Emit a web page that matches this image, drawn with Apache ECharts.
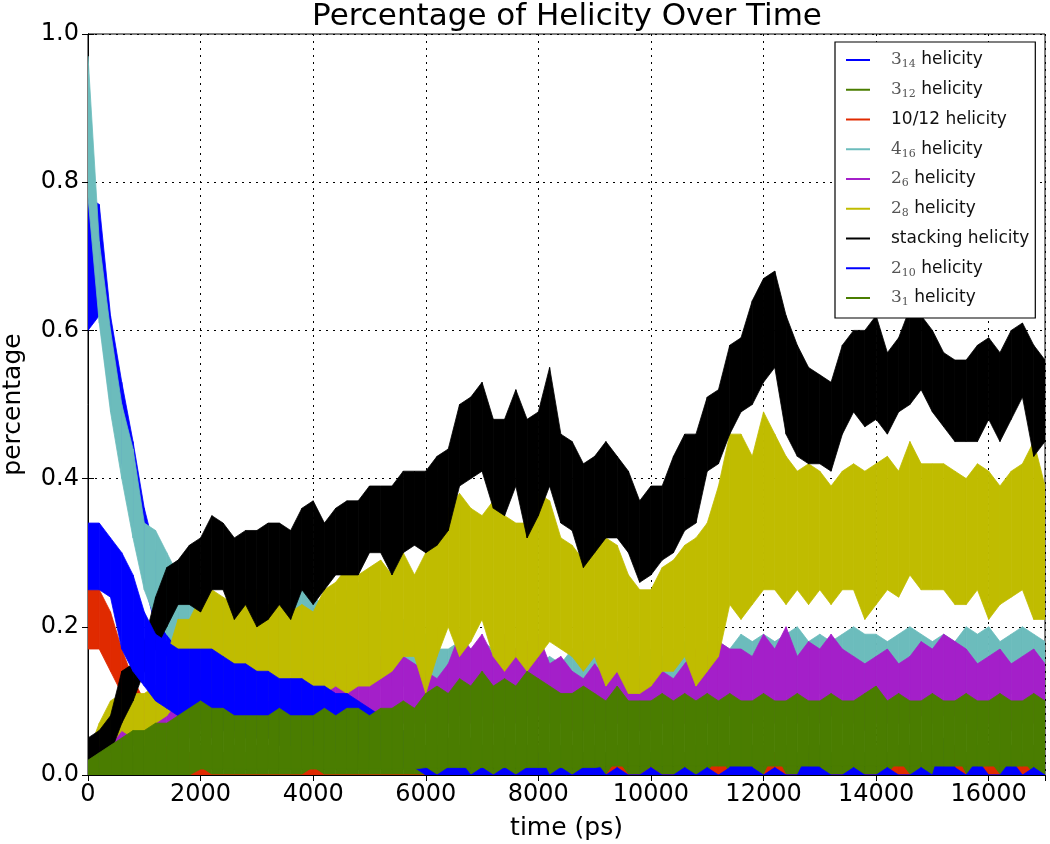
<!DOCTYPE html>
<html><head><meta charset="utf-8">
<script src="https://cdn.jsdelivr.net/npm/echarts@6/dist/echarts.min.js"></script>
<style>html,body{margin:0;padding:0;background:#fff}#c{width:1050px;height:844px}</style>
</head><body><div id="c"></div>
<script>
// time grid (ps)
const times = [0,200,400,600,800,1000,1200,1400,1600,1800,2000,2200,2400,2600,2800,3000,3200,3400,3600,3800,4000,4200,4400,4600,4800,5000,5200,5400,5600,5800,6000,6200,6400,6600,6800,7000,7200,7400,7600,7800,8000,8200,8400,8600,8800,9000,9200,9400,9600,9800,10000,10200,10400,10600,10800,11000,11200,11400,11600,11800,12000,12200,12400,12600,12800,13000,13200,13400,13600,13800,14000,14200,14400,14600,14800,15000,15200,15400,15600,15800,16000,16200,16400,16600,16800,17000];

// each series: lower and upper envelope of the noisy trace
const h314Lo = [0.60,0.62,0.50,0.42,0.34,0.26,0.20,0.16,0.13,0.11,0.09,0.08,0.07,0.06,0.06,0.05,0.05,0.04,0.04,0.03,0.03,0.03,0.02,0.02,0.02,0.02,0.01,0.01,0.01,0.01,0.01,0,0,0,0,0,0,0,0,0,0,0,0,0,0,0,0,0,0,0,0,0,0,0,0,0,0,0,0,0,0,0,0,0,0,0,0,0,0,0,0,0,0,0,0,0,0,0,0,0,0,0,0,0,0,0];
const h314Hi = [0.78,0.77,0.62,0.53,0.45,0.36,0.30,0.26,0.22,0.19,0.17,0.15,0.14,0.13,0.12,0.11,0.10,0.09,0.08,0.08,0.07,0.07,0.06,0.06,0.05,0.05,0.04,0.04,0.04,0.03,0.03,0.02,0.03,0.02,0.02,0.03,0.02,0.02,0.03,0.02,0.03,0.02,0.02,0.02,0.03,0.02,0.02,0.03,0.02,0.02,0.02,0.03,0.02,0.02,0.03,0.02,0.03,0.02,0.02,0.03,0.02,0.02,0.03,0.02,0.03,0.02,0.02,0.02,0.03,0.02,0.02,0.03,0.02,0.02,0.02,0.03,0.02,0.02,0.03,0.02,0.02,0.02,0.03,0.02,0.02,0.02];

const h312Lo = [0,0,0,0,0,0,0,0,0,0,0,0,0,0,0,0,0,0,0,0,0,0,0,0,0,0,0,0,0,0,0,0,0,0,0,0,0,0,0,0,0,0,0,0,0,0,0,0,0,0,0,0,0,0,0,0,0,0,0,0,0,0,0,0,0,0,0,0,0,0,0,0,0,0,0,0,0,0,0,0,0,0,0,0,0,0];
const h312Hi = [0.01,0.02,0.02,0.03,0.03,0.04,0.03,0.04,0.04,0.03,0.04,0.04,0.03,0.04,0.03,0.04,0.04,0.03,0.04,0.03,0.04,0.03,0.04,0.04,0.03,0.04,0.03,0.04,0.04,0.03,0.04,0.04,0.05,0.04,0.05,0.04,0.04,0.05,0.04,0.04,0.04,0.03,0.04,0.04,0.03,0.04,0.03,0.04,0.03,0.04,0.03,0.04,0.04,0.03,0.04,0.04,0.03,0.04,0.03,0.04,0.04,0.03,0.04,0.03,0.04,0.04,0.03,0.04,0.04,0.03,0.04,0.03,0.04,0.04,0.03,0.04,0.03,0.04,0.03,0.04,0.04,0.03,0.04,0.03,0.04,0.03];

const h1012Lo = [0.17,0.17,0.14,0.11,0.08,0.05,0.03,0.02,0.01,0,0,0,0,0,0,0,0,0,0,0,0,0,0,0,0,0,0,0,0,0,0,0,0,0,0,0,0,0,0,0,0,0,0,0,0,0,0,0,0,0,0,0,0,0,0,0,0,0,0,0,0,0,0,0,0,0,0,0,0,0,0,0,0,0,0,0,0,0,0,0,0,0,0,0,0,0];
const h1012Hi = [0.25,0.25,0.22,0.17,0.13,0.10,0.08,0.06,0.05,0.03,0.01,0,0,0,0,0,0,0,0,0,0.01,0,0,0,0,0,0,0,0,0,0,0,0,0,0,0,0,0,0,0,0,0,0,0,0,0,0,0.02,0,0,0.01,0,0,0,0,0,0.03,0,0.02,0,0,0.03,0,0,0.02,0,0,0,0,0,0,0,0.02,0,0,0,0,0.03,0,0,0.02,0,0,0.02,0,0];

const h416Lo = [0.78,0.61,0.49,0.40,0.32,0.25,0.21,0.19,0.17,0.16,0.15,0.14,0.14,0.13,0.14,0.13,0.13,0.13,0.14,0.14,0.13,0.13,0.13,0.14,0.14,0.13,0.12,0.12,0.12,0.11,0.11,0.10,0.10,0.10,0.10,0.10,0.10,0.09,0.09,0.09,0.09,0.09,0.09,0.09,0.10,0.10,0.10,0.10,0.10,0.10,0.10,0.10,0.10,0.10,0.10,0.10,0.10,0.10,0.11,0.11,0.11,0.11,0.11,0.11,0.11,0.11,0.11,0.11,0.11,0.11,0.11,0.11,0.11,0.11,0.11,0.11,0.11,0.11,0.11,0.11,0.11,0.11,0.11,0.11,0.11,0.11];
const h416Hi = [0.97,0.72,0.60,0.50,0.44,0.34,0.33,0.30,0.27,0.25,0.24,0.24,0.23,0.22,0.23,0.22,0.22,0.22,0.25,0.26,0.24,0.23,0.23,0.25,0.26,0.24,0.22,0.22,0.21,0.20,0.19,0.17,0.17,0.18,0.17,0.18,0.17,0.16,0.16,0.15,0.15,0.16,0.15,0.17,0.18,0.18,0.17,0.18,0.17,0.16,0.17,0.16,0.17,0.18,0.17,0.18,0.18,0.17,0.19,0.18,0.19,0.18,0.19,0.20,0.18,0.19,0.18,0.19,0.20,0.19,0.19,0.18,0.19,0.20,0.19,0.18,0.19,0.18,0.20,0.19,0.20,0.18,0.19,0.20,0.19,0.18];

const h26Lo = [0.00,0.01,0.02,0.03,0.04,0.04,0.05,0.04,0.05,0.05,0.06,0.05,0.06,0.05,0.06,0.05,0.06,0.05,0.06,0.06,0.06,0.06,0.07,0.06,0.07,0.06,0.07,0.06,0.07,0.07,0.07,0.06,0.07,0.08,0.07,0.08,0.07,0.08,0.07,0.08,0.08,0.07,0.07,0.06,0.06,0.07,0.06,0.07,0.06,0.06,0.06,0.07,0.06,0.07,0.07,0.07,0.08,0.08,0.07,0.07,0.08,0.07,0.08,0.07,0.08,0.07,0.08,0.07,0.07,0.06,0.07,0.07,0.07,0.07,0.08,0.07,0.08,0.08,0.07,0.06,0.07,0.07,0.06,0.07,0.07,0.06];
const h26Hi = [0.02,0.04,0.06,0.09,0.10,0.10,0.11,0.11,0.12,0.12,0.12,0.12,0.13,0.12,0.13,0.12,0.13,0.12,0.13,0.13,0.14,0.13,0.14,0.15,0.14,0.15,0.16,0.14,0.16,0.15,0.14,0.13,0.15,0.19,0.17,0.19,0.16,0.19,0.17,0.18,0.19,0.15,0.16,0.14,0.13,0.15,0.13,0.14,0.12,0.13,0.13,0.14,0.13,0.15,0.17,0.16,0.18,0.17,0.17,0.16,0.19,0.17,0.20,0.16,0.18,0.17,0.19,0.17,0.16,0.15,0.16,0.17,0.15,0.16,0.18,0.17,0.19,0.18,0.17,0.15,0.16,0.17,0.15,0.16,0.17,0.15];

const h28Lo = [0.01,0.04,0.04,0.06,0.05,0.04,0.07,0.08,0.10,0.10,0.13,0.11,0.11,0.10,0.11,0.10,0.10,0.10,0.11,0.10,0.10,0.11,0.12,0.11,0.12,0.12,0.13,0.14,0.16,0.16,0.11,0.16,0.20,0.16,0.18,0.21,0.16,0.14,0.16,0.14,0.16,0.18,0.17,0.16,0.14,0.16,0.12,0.14,0.11,0.11,0.12,0.14,0.14,0.16,0.12,0.14,0.16,0.23,0.21,0.23,0.25,0.25,0.23,0.25,0.23,0.25,0.23,0.25,0.25,0.21,0.23,0.25,0.24,0.27,0.25,0.25,0.25,0.23,0.23,0.25,0.21,0.23,0.24,0.25,0.21,0.21];
const h28Hi = [0.03,0.07,0.10,0.11,0.11,0.11,0.12,0.16,0.21,0.21,0.24,0.25,0.24,0.23,0.25,0.25,0.23,0.23,0.22,0.23,0.22,0.25,0.26,0.28,0.27,0.28,0.29,0.27,0.30,0.27,0.30,0.32,0.36,0.38,0.36,0.35,0.37,0.35,0.34,0.34,0.38,0.37,0.32,0.31,0.29,0.32,0.32,0.31,0.27,0.25,0.25,0.28,0.29,0.31,0.32,0.34,0.39,0.46,0.46,0.43,0.49,0.46,0.43,0.41,0.42,0.41,0.39,0.41,0.42,0.41,0.42,0.43,0.41,0.45,0.42,0.42,0.42,0.41,0.40,0.42,0.41,0.39,0.41,0.42,0.45,0.39];

const stackLo = [0.02,0.03,0.03,0.07,0.10,0.14,0.17,0.20,0.23,0.23,0.22,0.25,0.25,0.21,0.23,0.20,0.21,0.23,0.21,0.25,0.23,0.25,0.27,0.27,0.27,0.30,0.30,0.27,0.30,0.31,0.30,0.31,0.33,0.39,0.40,0.41,0.36,0.35,0.39,0.32,0.35,0.39,0.34,0.33,0.28,0.30,0.32,0.32,0.30,0.26,0.27,0.29,0.30,0.33,0.34,0.41,0.42,0.46,0.49,0.50,0.53,0.55,0.46,0.43,0.42,0.42,0.41,0.46,0.49,0.47,0.48,0.46,0.49,0.50,0.52,0.49,0.47,0.45,0.45,0.45,0.48,0.45,0.48,0.51,0.43,0.45];
const stackHi = [0.05,0.06,0.08,0.14,0.15,0.18,0.24,0.28,0.29,0.31,0.32,0.35,0.34,0.32,0.33,0.33,0.34,0.34,0.33,0.36,0.37,0.34,0.36,0.37,0.37,0.39,0.39,0.39,0.41,0.41,0.41,0.43,0.44,0.50,0.51,0.53,0.48,0.48,0.52,0.48,0.49,0.55,0.46,0.45,0.42,0.43,0.45,0.43,0.41,0.37,0.39,0.39,0.43,0.46,0.46,0.51,0.52,0.58,0.59,0.64,0.67,0.68,0.62,0.58,0.55,0.54,0.53,0.58,0.60,0.60,0.62,0.57,0.59,0.63,0.62,0.60,0.57,0.56,0.56,0.58,0.59,0.57,0.60,0.61,0.58,0.56];

const h210Lo = [0.25,0.25,0.24,0.17,0.14,0.12,0.10,0.09,0.08,0.08,0.07,0.07,0.06,0.06,0.05,0.05,0.05,0.05,0.04,0.04,0.04,0.04,0.03,0.03,0.03,0.02,0.02,0.01,0.01,0.01,0,0,0,0,0,0,0,0,0,0,0,0,0,0,0,0,0,0,0,0,0,0,0,0,0,0,0,0,0,0,0,0,0,0,0,0,0,0,0,0,0,0,0,0,0,0,0,0,0,0,0,0,0,0,0,0];
const h210Hi = [0.34,0.34,0.32,0.30,0.27,0.22,0.19,0.18,0.17,0.17,0.17,0.17,0.16,0.15,0.15,0.14,0.14,0.13,0.13,0.13,0.12,0.12,0.11,0.11,0.10,0.09,0.08,0.07,0.06,0.05,0.01,0,0.01,0.02,0,0.01,0,0.01,0,0.01,0.03,0,0.01,0,0.01,0.02,0,0.01,0,0,0.01,0,0,0.01,0,0.01,0,0.01,0.05,0.01,0,0.01,0,0,0.03,0.01,0,0,0.01,0,0,0.01,0,0,0.01,0,0.05,0.01,0,0.02,0,0,0.02,0,0.01,0];

const h31Lo = [0,0,0,0,0,0,0,0,0,0,0.008,0.008,0.008,0.008,0.008,0.008,0.008,0.008,0.008,0.008,0.008,0.008,0.008,0.008,0.008,0.008,0.008,0.008,0.008,0.008,0.01,0.01,0.01,0.01,0.01,0.01,0.01,0.01,0.01,0.01,0.01,0.01,0.01,0.01,0.01,0.01,0.012,0.012,0.012,0.012,0.012,0.012,0.012,0.012,0.012,0.012,0.012,0.012,0.012,0.012,0.012,0.012,0.012,0.012,0.012,0.012,0.012,0.012,0.012,0.012,0.012,0.012,0.012,0.012,0.012,0.012,0.012,0.012,0.012,0.012,0.012,0.012,0.012,0.012,0.012,0.012];
const h31Hi = [0.02,0.03,0.04,0.05,0.06,0.06,0.07,0.07,0.08,0.09,0.10,0.09,0.09,0.08,0.08,0.08,0.08,0.09,0.08,0.08,0.08,0.09,0.08,0.09,0.09,0.08,0.09,0.09,0.10,0.09,0.11,0.12,0.11,0.13,0.12,0.14,0.12,0.13,0.12,0.14,0.13,0.12,0.11,0.11,0.12,0.11,0.10,0.12,0.10,0.10,0.10,0.11,0.10,0.11,0.10,0.11,0.10,0.11,0.10,0.10,0.11,0.10,0.10,0.11,0.10,0.10,0.11,0.10,0.10,0.11,0.12,0.10,0.11,0.10,0.10,0.11,0.10,0.10,0.11,0.10,0.10,0.11,0.10,0.10,0.11,0.10];

const defs = [
  {name:'3_14', label:'{m|3}{s|14} helicity', color:'#0000ff', lo:h314Lo, hi:h314Hi},
  {name:'3_12', label:'{m|3}{s|12} helicity', color:'#4a7d00', lo:h312Lo, hi:h312Hi},
  {name:'10/12', label:'10/12 helicity', color:'#e02a00', lo:h1012Lo, hi:h1012Hi},
  {name:'4_16', label:'{m|4}{s|16} helicity', color:'#6cbcbc', lo:h416Lo, hi:h416Hi},
  {name:'2_6', label:'{m|2}{s|6} helicity', color:'#a41fc9', lo:h26Lo, hi:h26Hi},
  {name:'2_8', label:'{m|2}{s|8} helicity', color:'#c0bc00', lo:h28Lo, hi:h28Hi},
  {name:'stacking', label:'stacking helicity', color:'#000000', lo:stackLo, hi:stackHi},
  {name:'2_10', label:'{m|2}{s|10} helicity', color:'#0000ff', lo:h210Lo, hi:h210Hi},
  {name:'3_1', label:'{m|3}{s|1} helicity', color:'#4a7d00', lo:h31Lo, hi:h31Hi}
];

function bandRenderer(color) {
  return function (params, api) {
    const a = api.coord([api.value(0), api.value(1)]);
    const b = api.coord([api.value(3), api.value(4)]);
    const c = api.coord([api.value(3), api.value(5)]);
    const d = api.coord([api.value(0), api.value(2)]);
    return {type:'polygon', shape:{points:[a, b, c, d]},
      style:{fill:color, stroke:color, lineWidth:0.8}};
  };
}

const series = defs.map(d => {
  const rows = [];
  for (let i = 0; i + 1 < times.length; i++) {
    rows.push([times[i], d.lo[i], d.hi[i], times[i + 1], d.lo[i + 1], d.hi[i + 1]]);
  }
  return {
    type:'custom', name:d.name, data:rows, renderItem:bandRenderer(d.color),
    encode:{x:[0, 3], y:[1, 2, 4, 5]}, clip:true, silent:true,
    color:d.color, itemStyle:{color:d.color}
  };
});
const labelMap = {};
defs.forEach(d => labelMap[d.name] = d.label);

const font = 'DejaVu Sans';
const chart = echarts.init(document.getElementById('c'), null, {renderer:'canvas'});
chart.setOption({
  animation:false,
  backgroundColor:'#fff',
  title:{text:'Percentage of Helicity Over Time', left:567, top:1, textAlign:'center', padding:0,
    textStyle:{fontFamily:font, fontSize:31, fontWeight:'normal', color:'#000'}},
  grid:{left:88, right:5, top:34, bottom:69, outerBoundsMode:'none', containLabel:false,
    show:true, borderColor:'#000', borderWidth:1, backgroundColor:'transparent'},
  legend:{
    data: defs.map(d => d.name), orient:'vertical', left:835, top:42,
    padding:[8,6,10,11], itemGap:9.75, itemWidth:24, itemHeight:2,
    icon:'path://M0,0H24V2H0Z', selectedMode:false,
    backgroundColor:'#fff', borderColor:'#000', borderWidth:1.2,
    formatter: n => labelMap[n],
    textStyle:{fontFamily:font, fontSize:17, color:'#111', lineHeight:20, padding:[0,0,0,16],
      rich:{
        m:{fontFamily:'DejaVu Serif', fontSize:17, color:'#555', lineHeight:20},
        s:{fontFamily:'DejaVu Serif', fontSize:11, color:'#555', lineHeight:20, verticalAlign:'bottom'}
      }}
  },
  xAxis:[{
    type:'value', min:0, max:17000, interval:2000,
    name:'time (ps)', nameLocation:'middle', nameGap:41,
    nameTextStyle:{fontFamily:font, fontSize:25, color:'#000'},
    axisLine:{show:true, lineStyle:{color:'#000', width:1}},
    axisTick:{show:true, inside:true, length:6, lineStyle:{color:'#000'}},
    axisLabel:{fontFamily:font, fontSize:24, color:'#000', margin:8, showMaxLabel:false,
      formatter: v => String(v)},
    splitLine:{show:true, lineStyle:{color:'#000', width:1, type:[2,5]}}
  },{
    type:'value', position:'top', min:0, max:17000, interval:2000,
    axisLine:{show:true, lineStyle:{color:'#000'}},
    axisTick:{show:true, inside:true, length:6, lineStyle:{color:'#000'}},
    axisLabel:{show:false}, splitLine:{show:false}
  }],
  yAxis:[{
    type:'value', min:0, max:1, interval:0.2,
    name:'percentage', nameLocation:'middle', nameGap:62,
    nameTextStyle:{fontFamily:font, fontSize:25, color:'#000'},
    axisLine:{show:true, lineStyle:{color:'#000', width:1}},
    axisTick:{show:true, inside:true, length:6, lineStyle:{color:'#000'}},
    axisLabel:{fontFamily:font, fontSize:24, color:'#000', margin:9, formatter: v => v.toFixed(1)},
    splitLine:{show:true, lineStyle:{color:'#000', width:1, type:[2,5]}}
  },{
    type:'value', position:'right', min:0, max:1, interval:0.2,
    axisLine:{show:true, lineStyle:{color:'#000'}},
    axisTick:{show:true, inside:true, length:6, lineStyle:{color:'#000'}},
    axisLabel:{show:false}, splitLine:{show:false}
  }],
  series: series
});
</script>
</body></html>
